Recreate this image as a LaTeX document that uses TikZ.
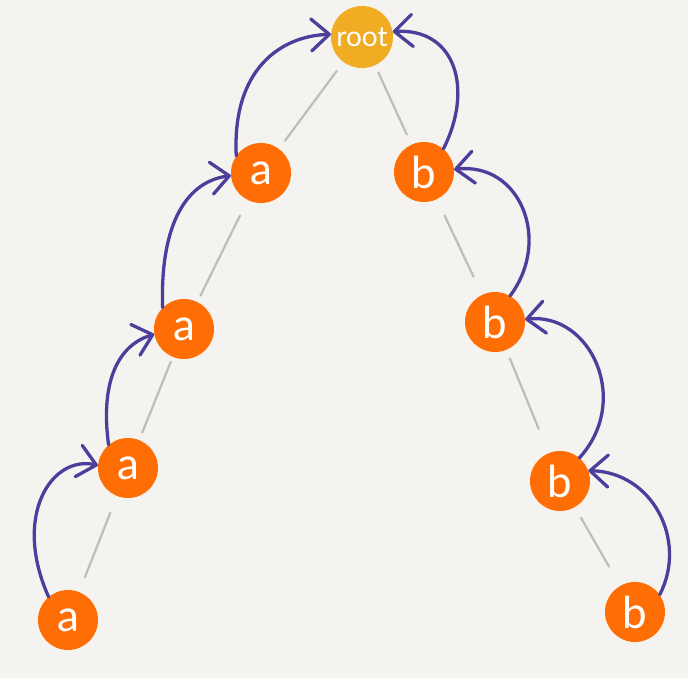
\documentclass[tikz,border=0pt]{standalone}
\usepackage{fontspec}
\setmainfont{Lato}
\usetikzlibrary{arrows.meta}
\definecolor{bg}{HTML}{F5F3EF}
\definecolor{orn}{HTML}{FF6D05}
\definecolor{gold}{HTML}{F0AC22}
\definecolor{purp}{HTML}{4B3E9C}
\definecolor{edgegray}{HTML}{BDBDBB}
\tikzset{
  tnode/.style={circle, fill=orn, draw=none, minimum size=60pt, inner sep=0pt, text=white, font=\fontsize{44}{44}\selectfont},
  rootnode/.style={tnode, fill=gold, minimum size=62pt, font=\fontsize{28}{28}\selectfont},
  tedge/.style={draw=edgegray, line width=2.2pt, line cap=round},
  backarrow/.style={draw=purp, line width=3.3pt, line cap=round, line join=round},
  barbtip/.tip={Straight Barb[length=18pt,width=32pt,line width=3.3pt,round]},
}
\begin{document}
\begin{tikzpicture}[x=1pt,y=-1pt]
\fill[bg] (0,0) rectangle (688,678);
\useasboundingbox (0,0) rectangle (688,678);
\node[rootnode] (root) at (362,37) {root};
\node[tnode] (a1) at (261,173) {a};
\node[tnode] (a2) at (184,329) {a};
\node[tnode] (a3) at (128,468) {a};
\node[tnode] (a4) at (68,620) {a};
\node[tnode] (b1) at (424,172) {b};
\node[tnode] (b2) at (495,322) {b};
\node[tnode] (b3) at (560,481) {b};
\node[tnode] (b4) at (635,612) {b};
% gray tree edges
\draw[tedge, shorten <=11pt, shorten >=10pt] (root) -- (a1);
\draw[tedge, shorten <=17pt, shorten >=7pt] (a1) -- (a2);
\draw[tedge, shorten <=5pt, shorten >=8pt] (a2) -- (a3);
\draw[tedge, shorten <=18pt, shorten >=16pt] (a3) -- (a4);
\draw[tedge, shorten <=8pt, shorten >=11pt] (root) -- (b1);
\draw[tedge, shorten <=18pt, shorten >=20pt] (b1) -- (b2);
\draw[tedge, shorten <=9pt, shorten >=26pt] (b2) -- (b3);
\draw[tedge, shorten <=12pt, shorten >=22pt] (b3) -- (b4);
% purple back arrows
\draw[backarrow, -barbtip] (a1.145) .. controls (232,70) and (280,36) .. (root.175);
\draw[backarrow, -barbtip] (b1.50) .. controls (474,88) and (455,28) .. (root.10);
\draw[backarrow, -barbtip] (a2.135) .. controls (160,232) and (182,182) .. (a1.185);
\draw[backarrow, -barbtip] (a3.130) .. controls (100,382) and (118,345) .. (a2.190);
\draw[backarrow, -barbtip] (a4.130) .. controls (12,515) and (52,455) .. (a3.175);
\draw[backarrow, -barbtip] (b2.60) .. controls (552,240) and (520,162) .. (b1.5);
\draw[backarrow, -barbtip] (b3.50) .. controls (632,400) and (590,312) .. (b2.5);
\draw[backarrow, -barbtip] (b4.35) .. controls (688,540) and (652,472) .. (b3.20);
\end{tikzpicture}
\end{document}
